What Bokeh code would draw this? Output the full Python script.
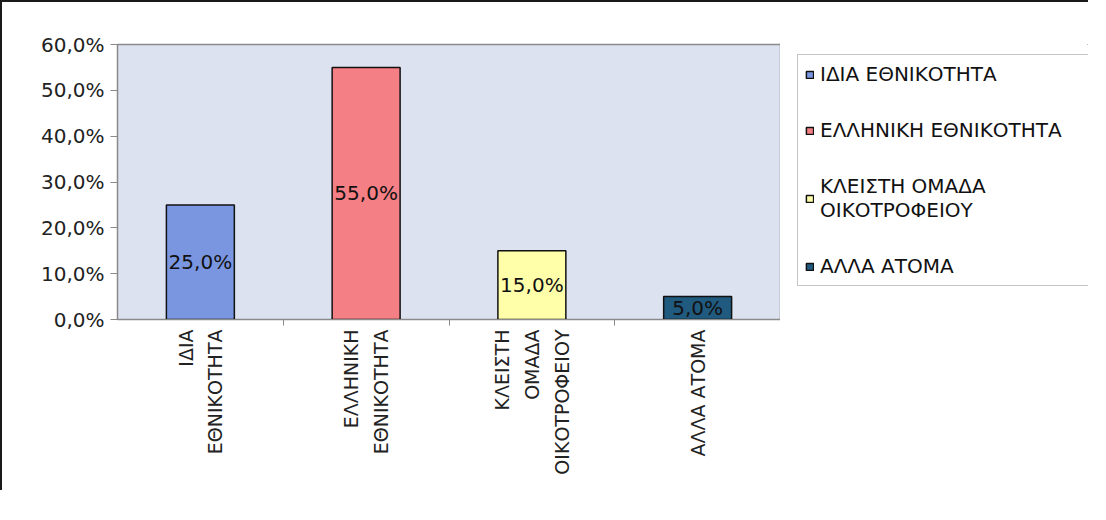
import math
from bokeh.plotting import figure
from bokeh.layouts import row
from bokeh.models import Range1d, FixedTicker, ColumnDataSource, Legend, LegendItem
from bokeh.core.properties import value
from bokeh.embed import file_html
from bokeh.resources import INLINE

categories = ["ΙΔΙΑ ΕΘΝΙΚΟΤΗΤΑ", "ΕΛΛΗΝΙΚΗ ΕΘΝΙΚΟΤΗΤΑ", "ΚΛΕΙΣΤΗ ΟΜΑΔΑ ΟΙΚΟΤΡΟΦΕΙΟΥ", "ΑΛΛΑ ΑΤΟΜΑ"]
axis_labels = ["ΙΔΙΑ\nΕΘΝΙΚΟΤΗΤΑ", "ΕΛΛΗΝΙΚΗ\nΕΘΝΙΚΟΤΗΤΑ", "ΚΛΕΙΣΤΗ\nΟΜΑΔΑ\nΟΙΚΟΤΡΟΦΕΙΟΥ", "ΑΛΛΑ ΑΤΟΜΑ"]
legend_labels = ["ΙΔΙΑ ΕΘΝΙΚΟΤΗΤΑ", "ΕΛΛΗΝΙΚΗ ΕΘΝΙΚΟΤΗΤΑ", "ΚΛΕΙΣΤΗ ΟΜΑΔΑ\nΟΙΚΟΤΡΟΦΕΙΟΥ", "ΑΛΛΑ ΑΤΟΜΑ"]
values = [25.0, 55.0, 15.0, 5.0]
colors = ["#7b96e1", "#f47f84", "#ffffaa", "#215a7f"]
y_ticks = [0, 10, 20, 30, 40, 50, 60]

FONT = "DejaVu Sans"
BORDER = "2px solid #1a1a1a"
H = 490
TOP = 42
BOTTOM = 173

def pct(v):
    return f"{v:.1f}%".replace(".", ",")

n = len(categories)
xs = [i + 0.5 for i in range(n)]

# ---------------- main chart ----------------
p = figure(width=780, height=H, output_backend="svg", toolbar_location=None,
           x_range=Range1d(0, n), y_range=Range1d(0, 60),
           min_border_left=115, min_border_right=2, min_border_top=TOP, min_border_bottom=BOTTOM)
p.styles = {"border-top": BORDER, "border-left": BORDER}

p.background_fill_color = "#dce2ef"
p.border_fill_color = "white"
p.outline_line_color = "#8a8a8a"
p.outline_line_width = 1.5
p.xgrid.visible = False
p.ygrid.visible = False

for i in range(n):
    src = ColumnDataSource(dict(x=[xs[i]], top=[values[i]]))
    p.vbar(x="x", top="top", bottom=0, width=0.41, source=src,
           fill_color=colors[i], line_color="#111111", line_width=1.5)

lab = ColumnDataSource(dict(x=xs, y=[v / 2 for v in values], t=[pct(v) for v in values]))
p.text(x="x", y="y", text="t", source=lab, text_align="center", text_baseline="middle",
       text_font=value(FONT), text_font_size="20px", text_color="#111111")

ya = p.yaxis[0]
ya.ticker = FixedTicker(ticks=y_ticks)
ya.major_label_overrides = {t: pct(float(t)) for t in y_ticks}
ya.major_label_text_font = FONT
ya.major_label_text_font_size = "20px"
ya.major_label_text_color = "#222222"
ya.axis_line_color = "#8a8a8a"
ya.major_tick_line_color = "#8a8a8a"
ya.major_tick_out = 7
ya.major_tick_in = 0
ya.minor_tick_line_color = None
ya.major_label_standoff = 6

xa = p.xaxis[0]
xa.ticker = FixedTicker(ticks=xs, minor_ticks=[float(i) for i in range(1, n)])
xa.major_label_overrides = {x: axis_labels[i] for i, x in enumerate(xs)}
xa.major_label_orientation = math.pi / 2
xa.major_label_text_font = FONT
xa.major_label_text_font_size = "19px"
xa.major_label_text_line_height = 1.35
xa.major_label_text_color = "#222222"
xa.axis_line_color = "#8a8a8a"
xa.major_tick_line_color = None
xa.major_tick_out = 0
xa.major_tick_in = 0
xa.minor_tick_line_color = "#8a8a8a"
xa.minor_tick_out = 6
xa.minor_tick_in = 0
xa.major_label_standoff = 4

# ---------------- legend panel ----------------
q = figure(width=308, height=H, output_backend="svg", toolbar_location=None,
           x_range=Range1d(-1000, -999), y_range=Range1d(-1000, -999),
           min_border_left=7, min_border_right=0, min_border_top=TOP, min_border_bottom=BOTTOM)
q.styles = {"border-top": BORDER}
q.axis.visible = False
q.grid.visible = False
q.outline_line_color = None
q.background_fill_color = "white"
q.border_fill_color = "white"

items = []
for i in range(n):
    src = ColumnDataSource(dict(x=[xs[i]], top=[values[i]]))
    r = q.vbar(x="x", top="top", bottom=0, width=0.41, source=src,
               fill_color=colors[i], line_color="#111111", line_width=1.5)
    items.append(LegendItem(label=legend_labels[i], renderers=[r]))

legend = Legend(items=items, location="top_left", orientation="vertical",
                label_text_font=FONT, label_text_font_size="20px", label_text_color="#111111",
                label_text_line_height=1.45,
                glyph_width=9, glyph_height=9, spacing=32, padding=7, margin=10,
                label_width=290, label_standoff=6,
                border_line_color="#8a8a8a", border_line_width=1.5,
                background_fill_color="white", background_fill_alpha=1.0)
q.add_layout(legend, "center")

root = row(p, q)
open("out.html", "w").write(file_html(root, INLINE))
